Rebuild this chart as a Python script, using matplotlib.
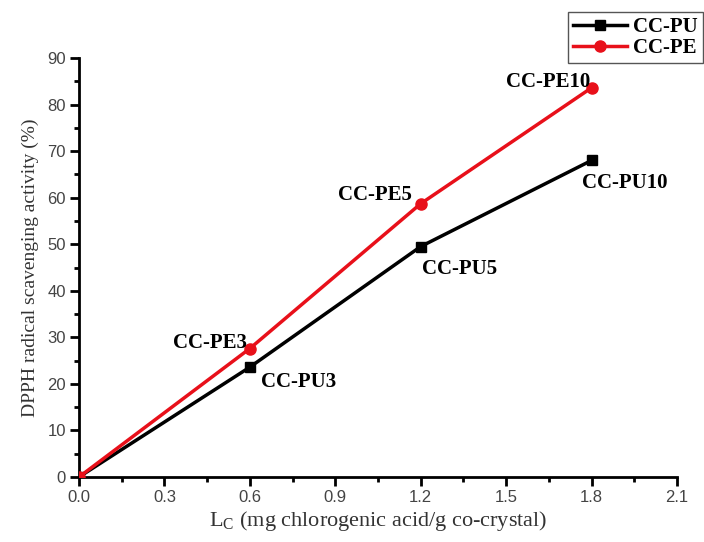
import matplotlib.pyplot as plt
import numpy as np

# loading of chlorogenic acid (mg/g co-crystal)
lc = [0.0, 0.6, 1.2, 1.8]
pu_activity = [0.0, 23.6, 49.5, 68.0]
pe_activity = [0.0, 27.6, 58.7, 83.6]
pu_labels = ["CC-PU3", "CC-PU5", "CC-PU10"]
pe_labels = ["CC-PE3", "CC-PE5", "CC-PE10"]

serif = "Liberation Serif"
sans = "Liberation Sans"

fig = plt.figure(figsize=(7.04, 5.42), dpi=100)
ax = fig.add_axes([0.1122, 0.1199, 0.8494, 0.7731])

ax.plot(lc, pu_activity, color="black", lw=2.5, marker="s", ms=7,
        label="CC-PU", zorder=3)
ax.plot(lc, pe_activity, color="#e8101a", lw=2.5, marker="o", ms=8,
        label="CC-PE", zorder=3)

txt = dict(fontsize=15, fontweight="bold", family=serif, textcoords="offset points")
pe_offsets = [(-2, 4), (-6, 6), (-1, 4)]
pu_offsets = [(8, -11), (1, -16), (-7, -16)]
for x, y, s, off in zip(lc[1:], pe_activity[1:], pe_labels, pe_offsets):
    ax.annotate(s, (x, y), xytext=off, ha="right", va="center", **txt)
for x, y, s, off in zip(lc[1:], pu_activity[1:], pu_labels, pu_offsets):
    ax.annotate(s, (x, y), xytext=off, ha="left", va="center", **txt)

ax.set_xlim(0, 2.1)
ax.set_ylim(0, 90)
ax.set_xticks(np.arange(0, 2.11, 0.3))
ax.set_xticks(np.arange(0.15, 2.1, 0.3), minor=True)
ax.set_yticks(np.arange(0, 91, 10))
ax.set_yticks(np.arange(5, 90, 10), minor=True)
ax.xaxis.set_major_formatter(plt.FormatStrFormatter("%.1f"))

for side in ["top", "right"]:
    ax.spines[side].set_visible(False)
for side in ["left", "bottom"]:
    ax.spines[side].set_linewidth(2)
ax.tick_params(which="major", direction="out", length=6.5, width=2,
               labelsize=12, labelcolor="#444444", pad=3)
ax.tick_params(which="minor", direction="out", length=3.5, width=2)
for lab in ax.get_xticklabels() + ax.get_yticklabels():
    lab.set_family(sans)

ax.set_xlabel(r"L$_\mathregular{C}$ (mg chlorogenic acid/g co-crystal)",
              family=serif, fontsize=16, color="#333333", labelpad=3)
ax.set_ylabel("DPPH radical scavenging activity (%)",
              family=serif, fontsize=14, color="#333333", labelpad=6)

leg = fig.legend(loc="upper right", bbox_to_anchor=(0.999, 0.978),
                 prop=dict(family=serif, weight="bold", size=15),
                 fancybox=False, edgecolor="#555555", framealpha=1,
                 handlelength=2.6, handletextpad=0.3, borderpad=0.25,
                 labelspacing=0.05, borderaxespad=0)
leg.get_frame().set_linewidth(1)

fig.savefig("out.png", dpi=100)
